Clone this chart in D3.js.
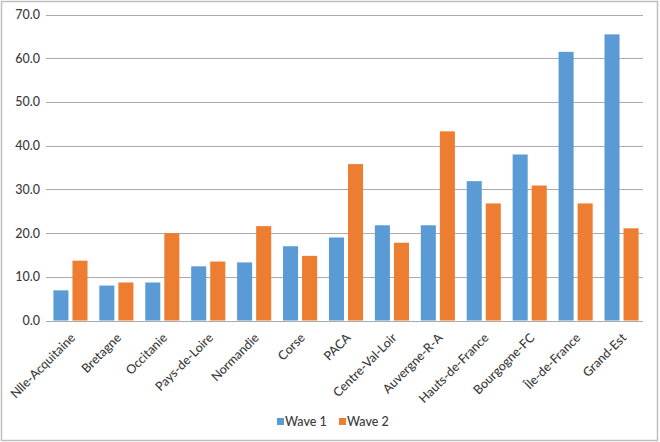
<!DOCTYPE html>
<html>
<head>
<meta charset="utf-8">
<script src="https://cdn.jsdelivr.net/npm/d3@7"></script>
<style>
  html, body { margin: 0; padding: 0; background: #fff; }
  svg { display: block; }
  text { font-family: Lato, "Open Sans", sans-serif; fill: #3A3A3A; }
</style>
</head>
<body>
<svg id="chart" width="660" height="442"></svg>
<script>
const categories = ["Nlle-Acquitaine", "Bretagne", "Occitanie", "Pays-de-Loire", "Normandie", "Corse", "PACA", "Centre-Val-Loir", "Auvergne-R-A", "Hauts-de-France", "Bourgogne-FC", "Île-de-France", "Grand-Est"];
const wave1 = [6.9, 8.0, 8.7, 12.4, 13.3, 17.0, 19.0, 21.8, 21.8, 31.9, 38.0, 61.5, 65.5];
const wave2 = [13.7, 8.7, 20.0, 13.5, 21.6, 14.8, 35.8, 17.8, 43.3, 26.8, 30.9, 26.8, 21.1];
const seriesNames = ["Wave 1", "Wave 2"];
const seriesColors = ["#5B9BD5", "#ED7D31"];
const yTicks = [0, 10, 20, 30, 40, 50, 60, 70];

const svg = d3.select("#chart");
const W = 660, H = 442;

// outer border
svg.append("rect")
  .attr("x", 1.5).attr("y", 1.5)
  .attr("width", W - 4).attr("height", H - 3)
  .attr("fill", "#fff").attr("stroke", "#BFBFBF").attr("stroke-width", 1.5);

const plotL = 46, plotR = 643, plotT = 14.7, plotB = 320.5;

const x = d3.scaleBand().domain(categories).range([plotL, plotR]).padding(0);
const y = d3.scaleLinear().domain([0, 70]).range([plotB, plotT]);
const xs = d3.scaleBand().domain(seriesNames)
  .range([1.5, x.bandwidth() + 1.5]).paddingInner(0.21).paddingOuter(0.31);

// gridlines
svg.append("g").selectAll("line").data(yTicks).join("line")
  .attr("x1", plotL).attr("x2", plotR)
  .attr("y1", d => Math.round(y(d)) + 0.5).attr("y2", d => Math.round(y(d)) + 0.5)
  .attr("stroke", "#ABABAB").attr("stroke-width", 1.2);

// y labels
svg.append("g").selectAll("text").data(yTicks).join("text")
  .attr("x", 40).attr("y", d => y(d))
  .attr("dy", "0.35em")
  .attr("text-anchor", "end")
  .style("font-size", "12.5px")
  .style("font-weight", "500")
  .text(d => d.toFixed(1));

// bars
const data = categories.map((c, i) => ({ c, vals: [wave1[i], wave2[i]] }));
const groups = svg.append("g").selectAll("g").data(data).join("g")
  .attr("transform", d => `translate(${x(d.c)},0)`);
groups.selectAll("rect")
  .data(d => d.vals.map((v, k) => ({ v, k })))
  .join("rect")
  .attr("x", d => xs(seriesNames[d.k]))
  .attr("width", xs.bandwidth())
  .attr("y", d => y(d.v))
  .attr("height", d => plotB - y(d.v))
  .attr("fill", d => seriesColors[d.k]);

// category labels
svg.append("g").selectAll("text").data(categories).join("text")
  .attr("transform", d => `translate(${x(d) + x.bandwidth() / 2 + 4},${plotB + 15}) rotate(-45)`)
  .attr("text-anchor", "end")
  .attr("dy", "0.35em")
  .style("font-size", "12.5px")
  .style("font-weight", "500")
  .text(d => d);

// legend
const leg = svg.append("g").attr("transform", "translate(277,0)");
const legItems = [{ name: seriesNames[0], color: seriesColors[0], x: 0 }, { name: seriesNames[1], color: seriesColors[1], x: 62 }];
leg.selectAll("rect").data(legItems).join("rect")
  .attr("x", d => d.x).attr("y", 418).attr("width", 7).attr("height", 7)
  .attr("fill", d => d.color);
leg.selectAll("text").data(legItems).join("text")
  .attr("x", d => d.x + 8).attr("y", 426)
  .style("font-size", "12.5px")
  .style("font-weight", "500")
  .text(d => d.name);
</script>
</body>
</html>
